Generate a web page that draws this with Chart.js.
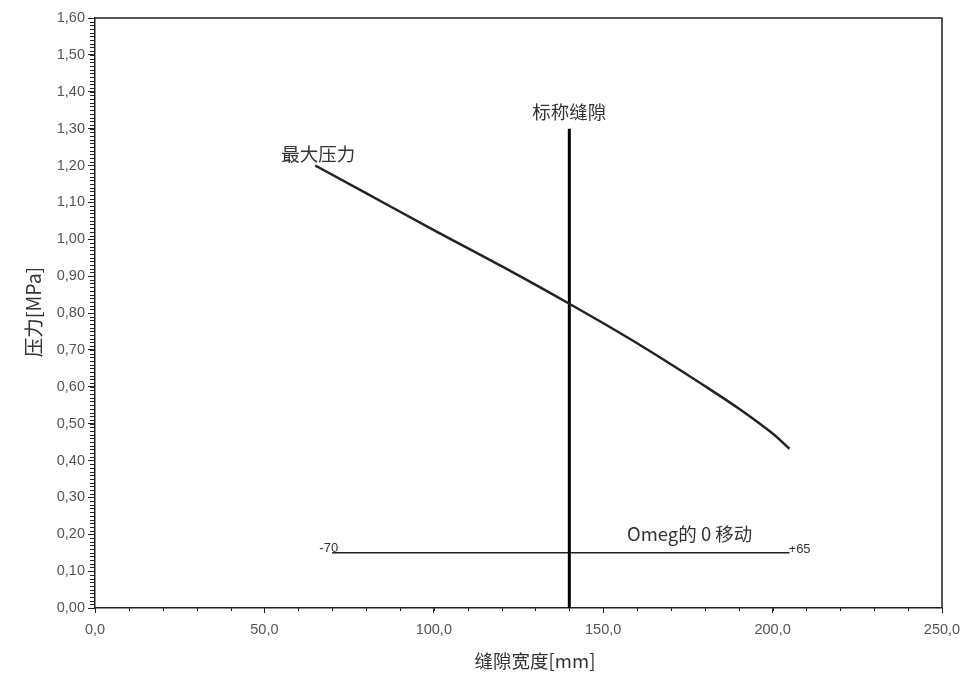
<!DOCTYPE html>
<html>
<head>
<meta charset="utf-8">
<script src="https://cdn.jsdelivr.net/npm/chart.js@4/dist/chart.umd.min.js"></script>
<style>
  html,body{margin:0;padding:0;background:#fff;}
  #wrap{width:966px;height:675px;position:relative;}
</style>
</head>
<body>
<div id="wrap"><canvas id="c" width="966" height="675"></canvas></div>
<script>
// ---- data ----
const gapWidth = [65, 80, 100, 120, 140, 160, 180, 190, 200, 205];
const maxPressure = [1.20, 1.125, 1.025, 0.927, 0.825, 0.718, 0.602, 0.541, 0.473, 0.432];
const nominalGap = 140;
const nominalTop = 1.30;
const omegaRange = [70, 205];
const omegaLevel = 0.15;
const omegaLabels = ['-70', '+65'];
const xRange = [0, 250];
const yRange = [0, 1.6];
const xStep = 50, xMinorStep = 10;
const yStep = 0.1, yMinorStep = 0.01;
const xTitle = '缝隙宽度[mm]';
const yTitle = '压力[MPa]';
const curveLabel = '最大压力';
const nominalLabel = '标称缝隙';
const omegaTitle = 'Omeg的 0 移动';

const cjk = '"Noto Sans CJK SC", "Noto Sans", sans-serif';
const sans = '"Liberation Sans", Arial, sans-serif';
const comma = (v, d) => Number(v).toFixed(d).replace('.', ',');

const decor = {
  id: 'decor',
  afterDatasetsDraw(chart) {
    const {ctx, chartArea: a, scales: {x, y}} = chart;
    ctx.save();
    // frame (top and right)
    ctx.strokeStyle = '#222';
    ctx.lineWidth = 1.5;
    ctx.beginPath();
    ctx.moveTo(a.left, a.top); ctx.lineTo(a.right, a.top); ctx.lineTo(a.right, a.bottom);
    ctx.stroke();
    // minor ticks
    ctx.lineWidth = 1;
    ctx.beginPath();
    for (let v = yRange[0]; v <= yRange[1] + 1e-9; v += yMinorStep) {
      const py = Math.round(y.getPixelForValue(v)) + 0.5;
      ctx.moveTo(a.left - 5, py); ctx.lineTo(a.left, py);
    }
    for (let v = xRange[0]; v <= xRange[1] + 1e-9; v += xMinorStep) {
      const px = Math.round(x.getPixelForValue(v)) + 0.5;
      ctx.moveTo(px, a.bottom); ctx.lineTo(px, a.bottom + 3);
    }
    ctx.stroke();
    // annotations
    ctx.fillStyle = '#333';
    ctx.font = '18.5px ' + cjk;
    ctx.textBaseline = 'middle';
    ctx.textAlign = 'center';
    ctx.fillText(nominalLabel, x.getPixelForValue(nominalGap), y.getPixelForValue(nominalTop) - 17);
    ctx.textAlign = 'left';
    ctx.fillText(curveLabel, x.getPixelForValue(gapWidth[0]) - 34, y.getPixelForValue(maxPressure[0]) - 12);
    ctx.fillText(omegaTitle, x.getPixelForValue(157), y.getPixelForValue(omegaLevel) - 19);
    ctx.font = '13px ' + sans;
    ctx.textAlign = 'right';
    ctx.fillText(omegaLabels[0], x.getPixelForValue(omegaRange[0]) + 6, y.getPixelForValue(omegaLevel) - 4);
    ctx.textAlign = 'left';
    ctx.fillText(omegaLabels[1], x.getPixelForValue(omegaRange[1]) - 1, y.getPixelForValue(omegaLevel) - 3);
    // axis titles
    ctx.font = '18.5px ' + cjk;
    ctx.textAlign = 'center';
    ctx.fillText(xTitle, 535, 661);
    ctx.save();
    ctx.translate(34, 312);
    ctx.rotate(-Math.PI / 2);
    ctx.font = '19.5px ' + cjk;
    ctx.fillText(yTitle, 0, 0);
    ctx.restore();
    ctx.restore();
  }
};

new Chart(document.getElementById('c'), {
  type: 'scatter',
  data: {
    datasets: [
      {
        label: curveLabel,
        data: gapWidth.map((g, i) => ({x: g, y: maxPressure[i]})),
        showLine: true, borderColor: '#222', borderWidth: 2.5, pointRadius: 0,
        cubicInterpolationMode: 'monotone'
      },
      {
        label: nominalLabel,
        data: [{x: nominalGap, y: 0}, {x: nominalGap, y: nominalTop}],
        showLine: true, borderColor: '#000', borderWidth: 3, pointRadius: 0
      },
      {
        label: omegaTitle,
        data: [{x: omegaRange[0], y: omegaLevel}, {x: omegaRange[1], y: omegaLevel}],
        showLine: true, borderColor: '#222', borderWidth: 1.5, pointRadius: 0
      }
    ]
  },
  options: {
    responsive: false,
    animation: false,
    layout: {padding: {left: 0, top: 18, right: 24, bottom: 0}},
    plugins: {legend: {display: false}, tooltip: {enabled: false}},
    scales: {
      x: {
        type: 'linear', min: xRange[0], max: xRange[1],
        afterFit(s) { s.height = 67; s.paddingRight = 0; },
        border: {color: '#222', width: 1.5},
        grid: {drawOnChartArea: false, drawTicks: true, tickLength: 5, color: '#222', lineWidth: 1},
        ticks: {stepSize: xStep, padding: 8, color: '#555', font: {family: sans, size: 14.5},
          maxRotation: 0, callback: v => comma(v, 1)}
      },
      y: {
        type: 'linear', min: yRange[0], max: yRange[1],
        afterFit(s) { s.width = 95; s.paddingTop = 0; s.paddingBottom = 0; },
        border: {color: '#222', width: 1.5},
        grid: {drawOnChartArea: false, drawTicks: true, tickLength: 7, color: '#222', lineWidth: 1},
        ticks: {stepSize: yStep, padding: 3, color: '#555', font: {family: sans, size: 14.5},
          callback: v => comma(v, 2)}
      }
    }
  },
  plugins: [decor]
});
</script>
</body>
</html>
